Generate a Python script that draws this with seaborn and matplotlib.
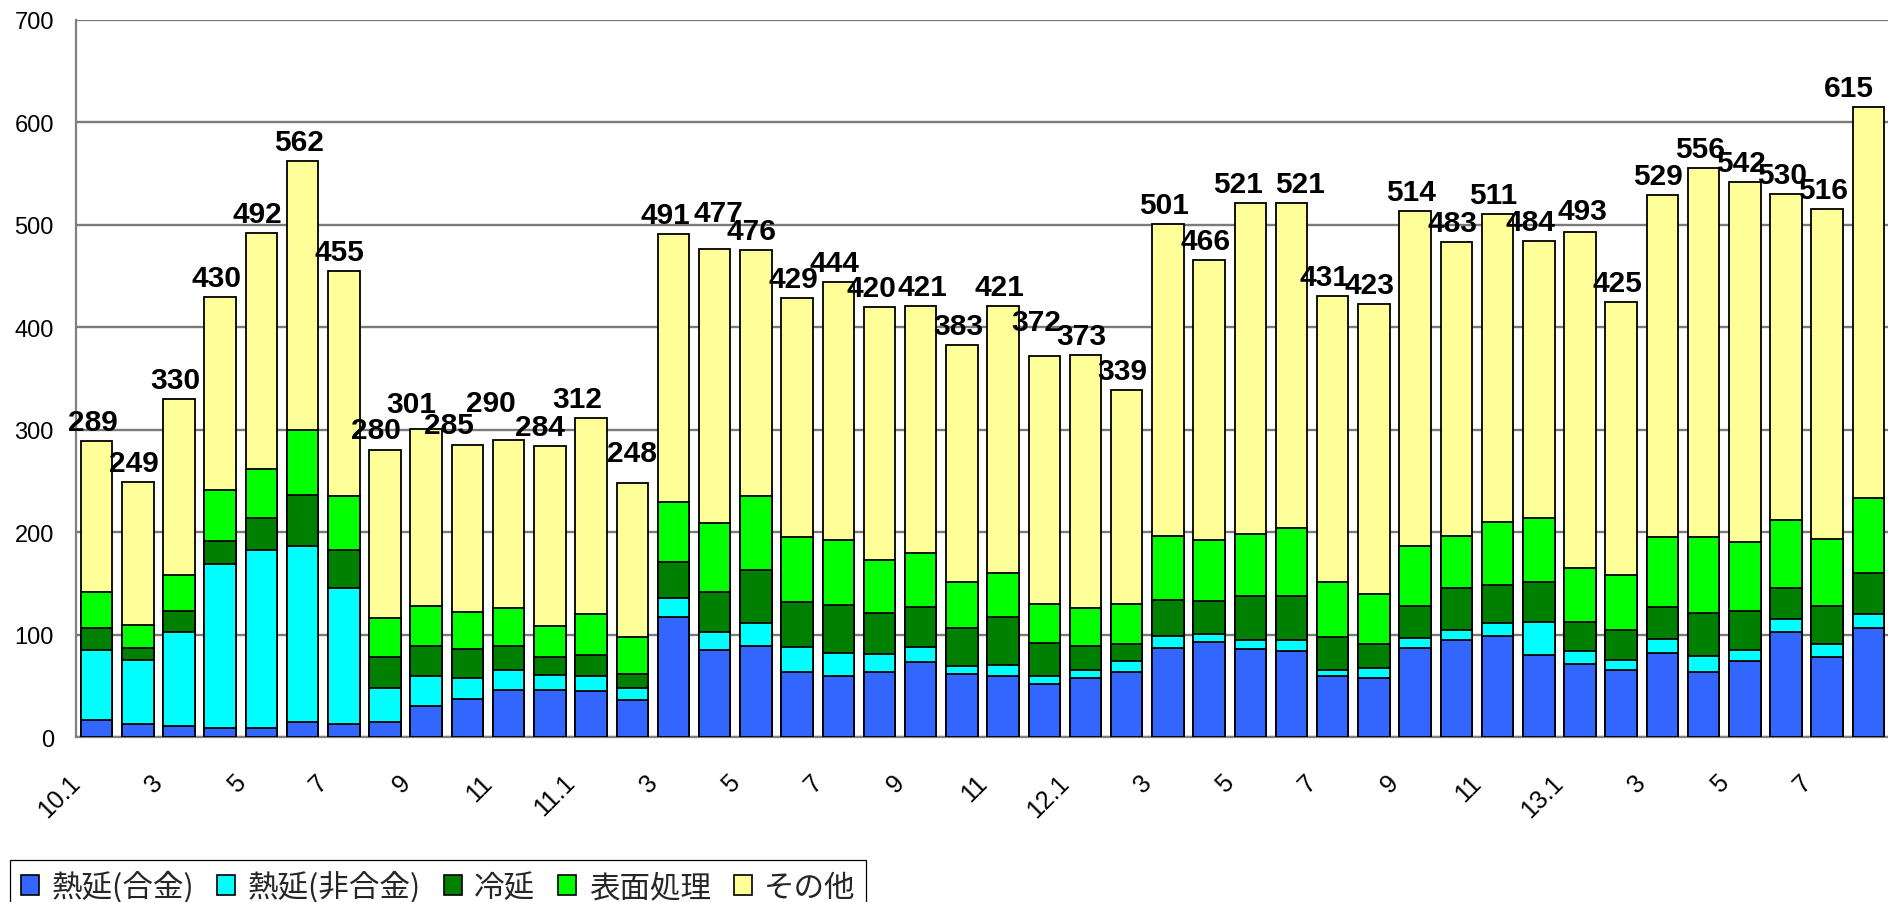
import numpy as np
import pandas as pd
import matplotlib
matplotlib.use("Agg")
import matplotlib.pyplot as plt
import matplotlib.transforms as mtransforms
from matplotlib.patches import Patch
import seaborn as sns

# ---------------- data ----------------
months = [f"10.{m}" for m in range(1, 13)] + [f"11.{m}" for m in range(1, 13)] + \
         [f"12.{m}" for m in range(1, 13)] + [f"13.{m}" for m in range(1, 9)]

tick_labels = ["10.1", "3", "5", "7", "9", "11",
               "11.1", "3", "5", "7", "9", "11",
               "12.1", "3", "5", "7", "9", "11",
               "13.1", "3", "5", "7"]

hot_alloy = [17, 13, 11, 9, 9, 15, 13, 15, 31, 37, 46, 46,
             45, 36, 117, 85, 89, 64, 60, 64, 73, 62, 60, 52,
             58, 64, 87, 93, 86, 84, 60, 58, 87, 95, 99, 80,
             72, 66, 82, 64, 74, 103, 78, 107]
hot_nonalloy = [68, 62, 92, 160, 174, 172, 133, 33, 29, 21, 20, 15,
                15, 12, 19, 18, 23, 24, 22, 17, 15, 8, 11, 8,
                8, 10, 12, 8, 9, 11, 6, 10, 10, 10, 13, 33,
                12, 9, 14, 15, 11, 12, 13, 13]
cold = [22, 12, 20, 23, 31, 49, 37, 30, 29, 28, 23, 17,
        20, 14, 35, 39, 51, 44, 47, 40, 39, 37, 46, 32,
        23, 17, 35, 32, 43, 43, 32, 23, 31, 41, 37, 39,
        29, 30, 31, 42, 38, 31, 37, 40]
surface = [35, 23, 35, 49, 48, 64, 52, 38, 39, 36, 37, 31,
           40, 36, 59, 67, 72, 63, 64, 52, 53, 45, 43, 38,
           37, 39, 62, 60, 60, 66, 54, 49, 59, 50, 61, 62,
           52, 53, 68, 74, 68, 66, 66, 74]
other = [147, 139, 172, 189, 230, 262, 220, 164, 173, 163, 164, 175,
         192, 150, 261, 268, 241, 234, 251, 247, 241, 231, 261, 242,
         247, 209, 305, 273, 323, 317, 279, 283, 327, 287, 301, 270,
         328, 267, 334, 361, 351, 318, 322, 381]
totals = [289, 249, 330, 430, 492, 562, 455, 280, 301, 285, 290, 284,
          312, 248, 491, 477, 476, 429, 444, 420, 421, 383, 421, 372,
          373, 339, 501, 466, 521, 521, 431, 423, 514, 483, 511, 484,
          493, 425, 529, 556, 542, 530, 516, 615]

series_names = ["熱延(合金)", "熱延(非合金)", "冷延", "表面処理", "その他"]
series_colors = ["#3366FF", "#00FFFF", "#008000", "#00FF00", "#FFFF99"]

# ---------------- style ----------------
sns.set_theme(style="white")
plt.rcParams["font.family"] = ["Liberation Sans", "Noto Sans CJK JP", "DejaVu Sans"]

W, H = 1888, 903
fig = plt.figure(figsize=(W / 100, H / 100), dpi=100)
left, right, bottom, top = 76, 1889, 738.3, 21
ax = fig.add_axes([left / W, 1 - bottom / H, (right - left) / W, (bottom - top) / H])

df = pd.DataFrame({"month": months})
stack = [hot_alloy, hot_nonalloy, cold, surface, other]
cum = np.cumsum(np.array(stack), axis=0)
for i in range(4, -1, -1):
    df["v"] = cum[i]
    sns.barplot(data=df, x="month", y="v", order=months, color=series_colors[i],
                saturation=1, width=0.765, edgecolor="black", linewidth=1.3,
                errorbar=None, ax=ax, zorder=3)

# total labels (label nudges in pixels, as placed in the original chart)
n = len(totals)
dx_px = [-4.0] * n
dy_px = [11.0] * n
for idx, (ddx, ddy) in {7: (-9, 12), 8: (-15, 17), 9: (-19, 12), 10: (-17.5, 29),
                        11: (-10, 11), 12: (-14, 10.5), 13: (0, 22),
                        14: (-8, 11), 15: (4, 28), 19: (-8, 11), 20: (2, 11),
                        23: (-8, 26), 28: (-12, 11), 29: (8, 11), 30: (-8, 11),
                        35: (-8, 11), 36: (2, 13),
                        n - 1: (-20, 11)}.items():
    dx_px[idx], dy_px[idx] = ddx, ddy
for i, t in enumerate(totals):
    ax.annotate(str(t), (i, t), xytext=(dx_px[i] * 0.72, dy_px[i] * 0.72),
                textcoords="offset points", ha="center", va="baseline",
                fontsize=21.5, fontweight="bold", color="black", zorder=5)

ax.set_ylim(0, 700)
ax.set_xlim(-0.5, len(months) - 0.5)
ax.set_xlabel("")
ax.set_ylabel("")

# grid & spines
ax.set_axisbelow(True)
ax.yaxis.grid(True, color="#7a7a7a", linewidth=1.7)
ax.xaxis.grid(False)
for s in ["top", "right"]:
    ax.spines[s].set_visible(False)
for s in ["left", "bottom"]:
    ax.spines[s].set_color("#808080")
    ax.spines[s].set_linewidth(1.6)

# y ticks
ax.set_yticks(range(0, 701, 100))
ax.tick_params(axis="y", which="major", direction="in", length=5, width=1.2,
               color="#808080", labelsize=17, pad=16, labelcolor="black")

# x ticks
ax.set_xticks(range(0, len(months), 2))
ax.set_xticklabels(tick_labels, rotation=45, ha="right", va="center",
                   rotation_mode="anchor", fontsize=18)
ax.tick_params(axis="x", which="major", length=0, pad=29.5, labelcolor="black")
ax.set_xticks(np.arange(-0.5, len(months), 1), minor=True)
ax.tick_params(axis="x", which="minor", direction="in", length=7, width=1,
               color="#808080")
offset = mtransforms.ScaledTranslation(-0.2, 0, fig.dpi_scale_trans)
for lab in ax.get_xticklabels():
    lab.set_transform(lab.get_transform() + offset)

# legend
handles = [Patch(facecolor=c, edgecolor="black", linewidth=1.2) for c in series_colors]
leg = fig.legend(handles, series_names, loc="upper left",
                 bbox_to_anchor=(10 / W, 1 - 861 / H), ncol=5,
                 prop={"family": ["Noto Sans CJK JP"], "size": 22},
                 handlelength=0.6, handleheight=0.6, handletextpad=0.4,
                 columnspacing=0.75, borderpad=0.35, borderaxespad=0,
                 frameon=True, fancybox=False, framealpha=1)
leg.get_frame().set_edgecolor("black")
leg.get_frame().set_linewidth(0.9)

fig.savefig("out.png", dpi=100)
